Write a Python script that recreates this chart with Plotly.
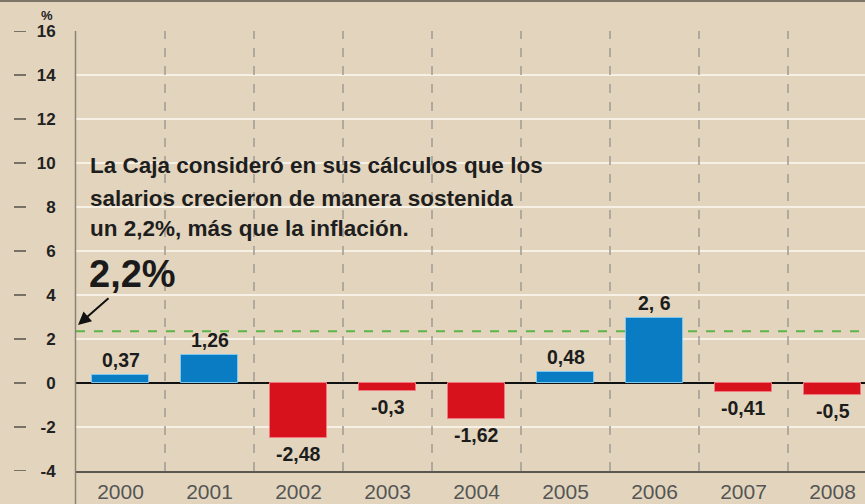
import plotly.graph_objects as go

years = ["2000", "2001", "2002", "2003", "2004", "2005", "2006", "2007", "2008"]
values = [0.37, 1.26, -2.48, -0.36, -1.62, 0.48, 2.95, -0.41, -0.56]
value_labels = ["0,37", "1,26", "-2,48", "-0,3", "-1,62", "0,48", "2, 6", "-0,41", "-0,5"]
y_ticks = [-4, -2, 0, 2, 4, 6, 8, 10, 12, 14, 16]
reference_level = 2.35
reference_label = "2,2%"
note_lines = [
    "La Caja consideró en sus cálculos que los",
    "salarios crecieron de manera sostenida",
    "un 2,2%, más que la inflación.",
]

BG = "#e3d5bd"
BLUE = "#0a7cc4"
RED = "#d8121d"
FONT = "Liberation Sans"
W, H = 865, 504
L, R, T, B = 76, 0, 31, 33
PW = W - L - R
PH = H - T - B


def px_x(px):
    return (px - L) / PW


def px_y(py):
    return (H - B - py) / PH


x_idx = list(range(len(years)))
colors = [BLUE if v >= 0 else RED for v in values]
outlines = ["#7cc8ef" if v >= 0 else "#f07a80" for v in values]

fig = go.Figure()
fig.add_trace(go.Bar(
    x=x_idx, y=values, width=0.64,
    marker=dict(color=colors, line=dict(color=outlines, width=1)),
    hoverinfo="skip",
))

shapes = []
for i in range(len(years) - 1):
    shapes.append(dict(type="line", xref="x", yref="y", x0=i + 0.5, x1=i + 0.5,
                       y0=y_ticks[0], y1=y_ticks[-1], layer="between",
                       line=dict(color="#a09a92", width=1.5, dash="dash")))
shapes.append(dict(type="line", xref="paper", yref="y", x0=0, x1=1,
                   y0=reference_level, y1=reference_level, layer="between",
                   line=dict(color="#5bb548", width=2, dash="dash")))
shapes.append(dict(type="line", xref="paper", yref="paper", x0=px_x(75.5), x1=px_x(75.5),
                   y0=px_y(H), y1=1, layer="above",
                   line=dict(color="#8a8478", width=1.5)))
shapes.append(dict(type="line", xref="paper", yref="paper", x0=px_x(0), x1=1,
                   y0=px_y(1), y1=px_y(1), layer="above",
                   line=dict(color="#7d7668", width=2)))
for v in y_ticks:
    shapes.append(dict(type="line", xref="paper", yref="y", x0=px_x(14), x1=px_x(26),
                       y0=v, y1=v, layer="above",
                       line=dict(color="#555049", width=1.5)))

annotations = []
for i, (v, lab) in enumerate(zip(values, value_labels)):
    annotations.append(dict(x=i, y=v, xref="x", yref="y", text=lab, showarrow=False,
                            yanchor="middle", yshift=15 if v >= 0 else -16,
                            font=dict(family=FONT, size=19.5, color="#1c1c1c", weight="bold")))

line_centers = [166, 198, 229]
for txt, cy in zip(note_lines, line_centers):
    annotations.append(dict(x=px_x(88), y=px_y(cy), xref="paper", yref="paper", text=txt,
                            showarrow=False, xanchor="left", yanchor="middle",
                            font=dict(family=FONT, size=22.5, color="#1e1e1e", weight="bold")))

annotations.append(dict(x=px_x(87), y=px_y(274), xref="paper", yref="paper", text=reference_label,
                        showarrow=False, xanchor="left", yanchor="middle",
                        font=dict(family=FONT, size=38, color="#1a1a1a", weight="bold")))
annotations.append(dict(x=px_x(78), y=px_y(325), xref="paper", yref="paper", text="",
                        showarrow=True, ax=32, ay=-28, axref="pixel", ayref="pixel",
                        arrowhead=2, arrowsize=1.3, arrowwidth=2, arrowcolor="#111"))
annotations.append(dict(x=px_x(47), y=px_y(16), xref="paper", yref="paper", text="%",
                        showarrow=False, xanchor="center", yanchor="middle",
                        font=dict(family=FONT, size=13, color="#222", weight="bold")))

fig.update_layout(
    width=W, height=H,
    margin=dict(l=L, r=R, t=T, b=B, pad=0),
    paper_bgcolor=BG, plot_bgcolor=BG,
    showlegend=False,
    bargap=0,
    shapes=shapes,
    annotations=annotations,
    xaxis=dict(
        range=[-0.5, -0.5 + PW / 89.0],
        tickmode="array", tickvals=x_idx, ticktext=years,
        tickfont=dict(family=FONT, size=21, color="#555"),
        showgrid=False, zeroline=False,
        showline=True, linecolor="#5a5650", linewidth=1.5,
        ticks="outside", ticklen=1, tickcolor="rgba(0,0,0,0)",
        automargin=False,
        fixedrange=True,
    ),
    yaxis=dict(
        range=[y_ticks[0], y_ticks[-1]],
        tickmode="array", tickvals=y_ticks, ticktext=[str(v) for v in y_ticks],
        tickfont=dict(family=FONT, size=17, color="#222", weight="bold"),
        showgrid=True, gridcolor="#f7f0e4", gridwidth=2,
        zeroline=True, zerolinecolor="#111", zerolinewidth=2,
        showline=False,
        ticks="outside", ticklen=16, tickcolor="rgba(0,0,0,0)",
        automargin=False,
        fixedrange=True,
    ),
)

fig.write_html(
    "out.html",
    config={"displayModeBar": False},
    post_script="document.body.style.margin='0';document.body.style.overflow='hidden';",
)
